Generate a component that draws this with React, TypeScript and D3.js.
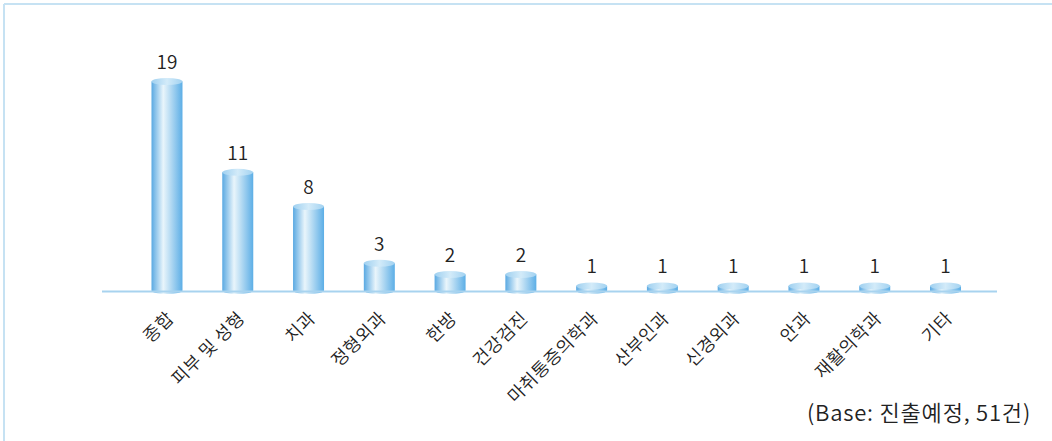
import React from "react";
import * as d3 from "d3";

const categories = ["종합", "피부 및 성형", "치과", "정형외과", "한방", "건강검진", "마취통증의학과", "산부인과", "신경외과", "안과", "재활의학과", "기타"];
const values = [19, 11, 8, 3, 2, 2, 1, 1, 1, 1, 1, 1];
const baseNote = "(Base: 진출예정, 51건)";

const W = 1052;
const H = 441;
const baseline = 290.5;
const barW = 31;
const ry = 3.5;
const FONT = "'Noto Sans CJK KR', 'Noto Sans', sans-serif";

export default function App() {
  const x = d3.scalePoint<string>().domain(categories).range([131.6, 980.9]).padding(0.5);
  const y = d3.scaleLinear().domain([0.6, 19]).range([baseline, baseline - 209]);

  return (
    <svg width={W} height={H} style={{ position: "absolute", left: 0, top: 0, background: "#fff" }} fontFamily={FONT} fontWeight={350}>
      <defs>
        <linearGradient id="cyl" x1="0" x2="1" y1="0" y2="0">
          <stop offset="0" stopColor="#5aa9e2" />
          <stop offset="0.38" stopColor="#e9f5fb" />
          <stop offset="0.55" stopColor="#c4e2f5" />
          <stop offset="1" stopColor="#5caee6" />
        </linearGradient>
        <linearGradient id="cap" x1="0" x2="1" y1="0" y2="0">
          <stop offset="0" stopColor="#9fd0f0" />
          <stop offset="0.5" stopColor="#d3ebf9" />
          <stop offset="1" stopColor="#a2d2f1" />
        </linearGradient>
      </defs>
      <rect x={0} y={0} width={W} height={H} fill="#fff" />
      <line x1={4} y1={4} x2={W} y2={4} stroke="#c6e2f3" strokeWidth={2} />
      <line x1={4} y1={4} x2={4} y2={H} stroke="#c6e2f3" strokeWidth={2} />

      {categories.map((c, i) => {
        const cx = x(c)!;
        const top = y(values[i]);
        const x0 = cx - barW / 2;
        return (
          <g key={c}>
            <path
              d={`M${x0},${top} L${x0},${baseline} A${barW / 2},${ry} 0 0 0 ${x0 + barW},${baseline} L${x0 + barW},${top} Z`}
              fill="url(#cyl)"
            />
            <ellipse cx={cx} cy={top} rx={barW / 2} ry={ry} fill="url(#cap)" />
            <text x={cx} y={top - ry - 9} textAnchor="middle" fontSize={19} fill="#222">
              {values[i]}
            </text>
            <text
              transform={`translate(${cx + 8},${baseline + 29}) rotate(-45)`}
              textAnchor="end"
              fontSize={18}
              letterSpacing={0.5}
              fill="#222"
            >
              {c}
            </text>
          </g>
        );
      })}

      <line x1={102} y1={baseline + 1} x2={997} y2={baseline + 1} stroke="#a8d3ef" strokeWidth={2} />

      <text x={1031} y={421} textAnchor="end" fontSize={22} letterSpacing={0.8} fill="#222">
        {baseNote}
      </text>
    </svg>
  );
}
